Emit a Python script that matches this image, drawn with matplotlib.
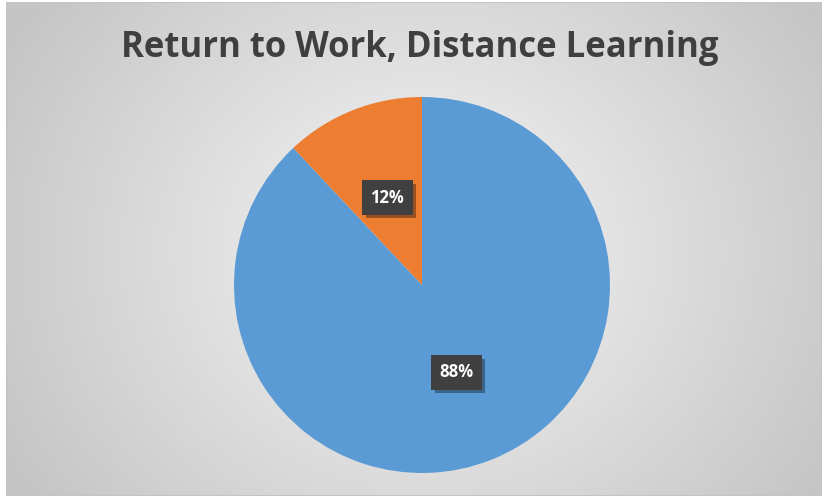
import numpy as np
import matplotlib
matplotlib.use("Agg")
import matplotlib.pyplot as plt
from matplotlib.patches import Rectangle
import matplotlib.patheffects as pe

# Data
categories = ["Return to Work", "Distance Learning"]
values = [88, 12]
colors = ["#5B9BD5", "#ED7D31"]
title = "Return to Work, Distance Learning"

W, H = 824, 496
fig = plt.figure(figsize=(W / 100, H / 100), dpi=100)
fig.patch.set_facecolor("white")

# Background with radial gradient (Excel style)
bg = fig.add_axes([6 / W, 0, (W - 8) / W, (H - 2) / H])
bg.set_axis_off()
yy, xx = np.mgrid[0:H, 0:W - 8]
cx, cy = 416, 250
d = np.sqrt(((xx - cx) / 470.0) ** 2 + ((yy - cy) / 420.0) ** 2)
d = np.clip(d, 0, 1)
val = 0.965 - 0.19 * d
img = np.dstack([val, val, val])
bg.imshow(img, extent=[0, 1, 0, 1], aspect="auto", origin="upper")
bg.add_patch(Rectangle((0, 0), 1, 1, transform=bg.transAxes, fill=False,
                       edgecolor="#c4c4c4", lw=1.5))
bg.set_xlim(0, 1)
bg.set_ylim(0, 1)

# Title
fig.text(420 / W, 1 - 48 / H, title, ha="center", va="center",
         fontsize=25, fontweight="bold", color="#3f3f3f", family="Open Sans")

# Pie
r = 188
ax = fig.add_axes([(422 - r) / W, (H - 285 - r) / H, 2 * r / W, 2 * r / H])
wedges, texts, autotexts = ax.pie(values, colors=colors, startangle=90,
                                  counterclock=False, autopct="%1.0f%%",
                                  pctdistance=0.5,
                                  wedgeprops=dict(linewidth=0))
ax.set_aspect("equal")
ax.set_xlim(-1, 1)
ax.set_ylim(-1, 1)

for t in autotexts:
    t.set_fontsize(12)
    t.set_fontweight("bold")
    t.set_color("white")
    t.set_family("Open Sans")
    t.set_bbox(dict(boxstyle="square,pad=0.5", fc="#404040", ec="none"))
    t.get_bbox_patch().set_path_effects([
        pe.SimplePatchShadow(offset=(2.5, -2.5), shadow_rgbFace="black", alpha=0.35),
        pe.Normal()])

fig.savefig("out.png", dpi=100)
